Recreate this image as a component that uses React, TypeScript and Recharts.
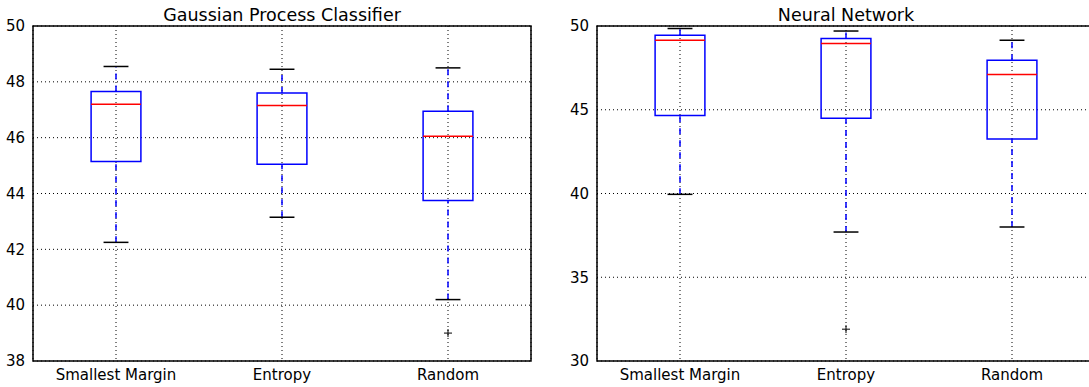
import React from 'react'
import {
  ComposedChart,
  XAxis,
  YAxis,
  CartesianGrid,
  ReferenceArea,
  ReferenceLine,
  Scatter,
} from 'recharts'

const categories = ['Smallest Margin', 'Entropy', 'Random']
const positions = [1, 2, 3]

// Gaussian Process Classifier
const gpcWhiskerLow = [42.25, 43.15, 40.2]
const gpcQ1 = [45.15, 45.05, 43.75]
const gpcMedian = [47.2, 47.15, 46.05]
const gpcQ3 = [47.65, 47.6, 46.95]
const gpcWhiskerHigh = [48.55, 48.45, 48.5]
const gpcOutliers = [{ x: 3, y: 39.0 }]
const gpcTicks = [38, 40, 42, 44, 46, 48, 50]

// Neural Network
const nnWhiskerLow = [39.95, 37.7, 38.0]
const nnQ1 = [44.65, 44.5, 43.25]
const nnMedian = [49.15, 48.95, 47.1]
const nnQ3 = [49.45, 49.25, 47.95]
const nnWhiskerHigh = [49.85, 49.7, 49.15]
const nnOutliers = [{ x: 2, y: 31.9 }]
const nnTicks = [30, 35, 40, 45, 50]

const BOX_HALF = 0.15
const CAP_HALF = 0.075
const FONT = 'DejaVu Sans, sans-serif'

type Stats = {
  low: number[]
  q1: number[]
  median: number[]
  q3: number[]
  high: number[]
}

function boxElements(s: Stats) {
  const els: React.ReactNode[] = []
  positions.forEach((p, i) => {
    const k = `b${i}`
    els.push(
      <ReferenceLine key={k + 'wl'} segment={[{ x: p, y: s.low[i] }, { x: p, y: s.q1[i] }]}
        stroke="#0000ff" strokeWidth={1.5} strokeDasharray="6 6" />,
      <ReferenceLine key={k + 'wh'} segment={[{ x: p, y: s.q3[i] }, { x: p, y: s.high[i] }]}
        stroke="#0000ff" strokeWidth={1.5} strokeDasharray="6 6" />,
      <ReferenceLine key={k + 'cl'} segment={[{ x: p - CAP_HALF, y: s.low[i] }, { x: p + CAP_HALF, y: s.low[i] }]}
        stroke="#000" strokeWidth={1.5} />,
      <ReferenceLine key={k + 'ch'} segment={[{ x: p - CAP_HALF, y: s.high[i] }, { x: p + CAP_HALF, y: s.high[i] }]}
        stroke="#000" strokeWidth={1.5} />,
      <ReferenceArea key={k + 'box'} x1={p - BOX_HALF} x2={p + BOX_HALF} y1={s.q1[i]} y2={s.q3[i]}
        fill="none" fillOpacity={0} stroke="#0000ff" strokeWidth={1.5} />,
      <ReferenceLine key={k + 'med'} segment={[{ x: p - BOX_HALF, y: s.median[i] }, { x: p + BOX_HALF, y: s.median[i] }]}
        stroke="#ff0000" strokeWidth={1.5} />,
    )
  })
  return els
}

const Plus = (props: any) => {
  const { cx, cy } = props
  if (cx == null || cy == null) return null
  return (
    <g stroke="#000" strokeWidth={1}>
      <line x1={cx - 4} y1={cy} x2={cx + 4} y2={cy} />
      <line x1={cx} y1={cy - 4} x2={cx} y2={cy + 4} />
    </g>
  )
}

type PanelProps = {
  title: string
  stats: Stats
  outliers: { x: number; y: number }[]
  ticks: number[]
  width: number
  marginLeft: number
  marginRight: number
}

function Panel({ title, stats, outliers, ticks, width, marginLeft, marginRight }: PanelProps) {
  const yMin = ticks[0]
  const yMax = ticks[ticks.length - 1]
  const plotLeft = marginLeft + 25
  const plotRight = width - marginRight
  return (
    <div style={{ position: 'relative', width, height: 387 }}>
      <div
        style={{
          position: 'absolute',
          top: 5,
          left: plotLeft,
          width: plotRight - plotLeft,
          textAlign: 'center',
          fontFamily: FONT,
          fontSize: 17.5,
          lineHeight: 'normal',
          color: '#000',
          whiteSpace: 'nowrap',
        }}
      >
        {title}
      </div>
      <ComposedChart
        width={width}
        height={387}
        margin={{ top: 26, right: marginRight, bottom: 6, left: marginLeft }}
      >
        <CartesianGrid stroke="#000" strokeDasharray="1 3" strokeWidth={1} />
        <XAxis
          type="number"
          dataKey="x"
          domain={[0.5, 3.5]}
          ticks={positions}
          tickFormatter={(v: number) => categories[v - 1]}
          tickLine={false}
          axisLine={false}
          height={20}
          tickMargin={2}
          tick={{ fill: '#000', fontSize: 15, fontFamily: FONT }}
          allowDataOverflow
        />
        <YAxis
          type="number"
          dataKey="y"
          domain={[yMin, yMax]}
          ticks={ticks}
          width={25}
          tickLine={false}
          axisLine={false}
          tickSize={8}
          tickMargin={0}
          tick={{ fill: '#000', fontSize: 15, fontFamily: FONT }}
          allowDataOverflow
        />
        {boxElements(stats)}
        <Scatter data={outliers} shape={<Plus />} isAnimationActive={false} />
        <ReferenceArea x1={0.5} x2={3.5} y1={yMin} y2={yMax} fill="none" fillOpacity={0}
          stroke="#000" strokeWidth={1.5} />
      </ComposedChart>
    </div>
  )
}

export default function App() {
  return (
    <div
      style={{
        position: 'absolute',
        left: 0,
        top: 0,
        width: 1089,
        height: 387,
        overflow: 'hidden',
        background: '#fff',
      }}
    >
      <div style={{ position: 'absolute', left: 0, top: 0 }}>
        <Panel
          title="Gaussian Process Classifier"
          stats={{ low: gpcWhiskerLow, q1: gpcQ1, median: gpcMedian, q3: gpcQ3, high: gpcWhiskerHigh }}
          outliers={gpcOutliers}
          ticks={gpcTicks}
          width={545}
          marginLeft={8}
          marginRight={14}
        />
      </div>
      <div style={{ position: 'absolute', left: 545, top: 0 }}>
        <Panel
          title="Neural Network"
          stats={{ low: nnWhiskerLow, q1: nnQ1, median: nnMedian, q3: nnQ3, high: nnWhiskerHigh }}
          outliers={nnOutliers}
          ticks={nnTicks}
          width={560}
          marginLeft={27}
          marginRight={10}
        />
      </div>
    </div>
  )
}
